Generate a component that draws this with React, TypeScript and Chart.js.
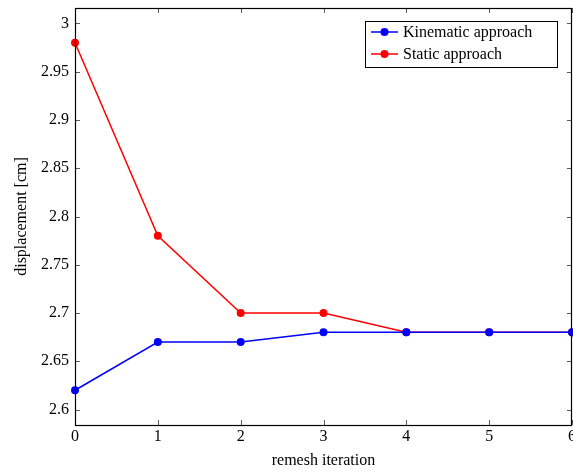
import React, { useEffect, useRef } from "react";
import { Chart, registerables } from "chart.js";

Chart.register(...registerables);

const iterations = [0, 1, 2, 3, 4, 5, 6];
const kinematic = [2.62, 2.67, 2.67, 2.68, 2.68, 2.68, 2.68];
const staticApproach = [2.98, 2.78, 2.7, 2.7, 2.68, 2.68, 2.68];
const xTickValues = [0, 1, 2, 3, 4, 5, 6];
const yTickValues = [2.6, 2.65, 2.7, 2.75, 2.8, 2.85, 2.9, 2.95, 3];
const seriesLabels = ["Kinematic approach", "Static approach"];
const seriesColors = ["#0000ff", "#ff0000"];
const xTitle = "remesh iteration";
const yTitle = "displacement [cm]";
const xMin = 0;
const xMax = 6;
const yMin = 2.584;
const yMax = 3.016;

const FONT = "'Liberation Serif', 'Times New Roman', serif";

const frameTicksPlugin = {
  id: "frameTicks",
  afterDraw(chart: any) {
    const { ctx, chartArea } = chart;
    const { left, right, top, bottom } = chartArea;
    const xs = chart.scales.x;
    const ys = chart.scales.y;
    ctx.save();
    // x tick labels (drawn here so the last label may overflow the canvas edge)
    ctx.fillStyle = "#000";
    ctx.font = `16px ${FONT}`;
    ctx.textAlign = "center";
    ctx.textBaseline = "middle";
    for (const v of xTickValues) {
      ctx.fillText(String(v), xs.getPixelForValue(v), bottom + 12);
    }
    ctx.strokeStyle = "#333";
    ctx.lineWidth = 0.8;
    const tl = 5;
    ctx.beginPath();
    for (const v of xTickValues) {
      const px = Math.round(xs.getPixelForValue(v)) + 0.5;
      ctx.moveTo(px, bottom);
      ctx.lineTo(px, bottom - tl);
      ctx.moveTo(px, top);
      ctx.lineTo(px, top + tl);
    }
    for (const v of yTickValues) {
      const py = Math.round(ys.getPixelForValue(v)) + 0.5;
      ctx.moveTo(left, py);
      ctx.lineTo(left + tl, py);
      ctx.moveTo(right, py);
      ctx.lineTo(right - tl, py);
    }
    ctx.stroke();
    ctx.strokeStyle = "#000";
    ctx.lineWidth = 1.2;
    ctx.strokeRect(Math.round(left) + 0.5, Math.round(top) + 0.5, Math.round(right - left) - 1, Math.round(bottom - top));
    ctx.restore();
  },
};

const legendBoxPlugin = {
  id: "legendBox",
  afterDraw(chart: any) {
    const { ctx } = chart;
    const bx = 365.5;
    const by = 21.5;
    const bw = 192;
    const bh = 46;
    ctx.save();
    ctx.fillStyle = "#fff";
    ctx.fillRect(bx, by, bw, bh);
    ctx.strokeStyle = "#000";
    ctx.lineWidth = 1;
    ctx.strokeRect(bx, by, bw, bh);
    ctx.font = `16px ${FONT}`;
    ctx.textBaseline = "middle";
    ctx.textAlign = "left";
    chart.data.datasets.forEach((ds: any, i: number) => {
      const y = 32 + i * 22;
      ctx.strokeStyle = ds.borderColor;
      ctx.lineWidth = 1.5;
      ctx.beginPath();
      ctx.moveTo(371, y);
      ctx.lineTo(398, y);
      ctx.stroke();
      ctx.fillStyle = ds.borderColor;
      ctx.beginPath();
      ctx.arc(384.5, y, 4, 0, Math.PI * 2);
      ctx.fill();
      ctx.fillStyle = "#000";
      ctx.fillText(ds.label, 403, y + 1);
    });
    ctx.restore();
  },
};

export default function App() {
  const canvasRef = useRef<HTMLCanvasElement>(null);

  useEffect(() => {
    if (!canvasRef.current) return;
    const mk = (vals: number[]) => iterations.map((x, i) => ({ x, y: vals[i] }));
    const chart = new Chart(canvasRef.current, {
      type: "line",
      data: {
        datasets: [kinematic, staticApproach].map((vals, i) => ({
          label: seriesLabels[i],
          data: mk(vals),
          borderColor: seriesColors[i],
          backgroundColor: seriesColors[i],
          pointBackgroundColor: seriesColors[i],
          pointBorderColor: seriesColors[i],
          pointRadius: 4,
          pointBorderWidth: 0,
          borderWidth: 1.5,
          tension: 0,
          fill: false,
          clip: 6,
        })),
      },
      options: {
        responsive: false,
        animation: false,
        devicePixelRatio: 1,
        layout: { autoPadding: false, padding: { top: 8, right: 1, left: 0, bottom: 0 } },
        plugins: {
          legend: { display: false },
          tooltip: { enabled: false },
          title: { display: false },
        },
        scales: {
          x: {
            type: "linear",
            min: xMin,
            max: xMax,
            afterBuildTicks: (s: any) => {
              s.ticks = xTickValues.map((v) => ({ value: v }));
            },
            afterFit: (s: any) => {
              s.height = 47;
              s.paddingLeft = 0;
              s.paddingRight = 0;
            },
            grid: { display: false, drawTicks: false },
            border: { display: false },
            ticks: { display: false },
            title: {
              display: true,
              text: xTitle,
              color: "#000",
              font: { family: FONT, size: 16 },
              padding: { top: 4, bottom: 2 },
            },
          },
          y: {
            type: "linear",
            min: yMin,
            max: yMax,
            afterBuildTicks: (s: any) => {
              s.ticks = yTickValues.map((v) => ({ value: v }));
            },
            afterFit: (s: any) => {
              s.width = 75;
              s.paddingTop = 0;
              s.paddingBottom = 0;
            },
            grid: { display: false, drawTicks: false },
            border: { display: false },
            ticks: {
              color: "#000",
              font: { family: FONT, size: 16 },
              padding: 6,
              autoSkip: false,
              callback: (v: any) => String(Math.round(Number(v) * 100) / 100),
            },
            title: {
              display: true,
              text: yTitle,
              color: "#000",
              font: { family: FONT, size: 16 },
              padding: { top: 12, bottom: 0 },
            },
          },
        },
      },
      plugins: [frameTicksPlugin, legendBoxPlugin],
    });
    return () => chart.destroy();
  }, []);

  return (
    <div style={{ position: "absolute", left: 0, top: 0, width: 573, height: 472, background: "#fff" }}>
      <canvas ref={canvasRef} width={573} height={472} />
    </div>
  );
}
